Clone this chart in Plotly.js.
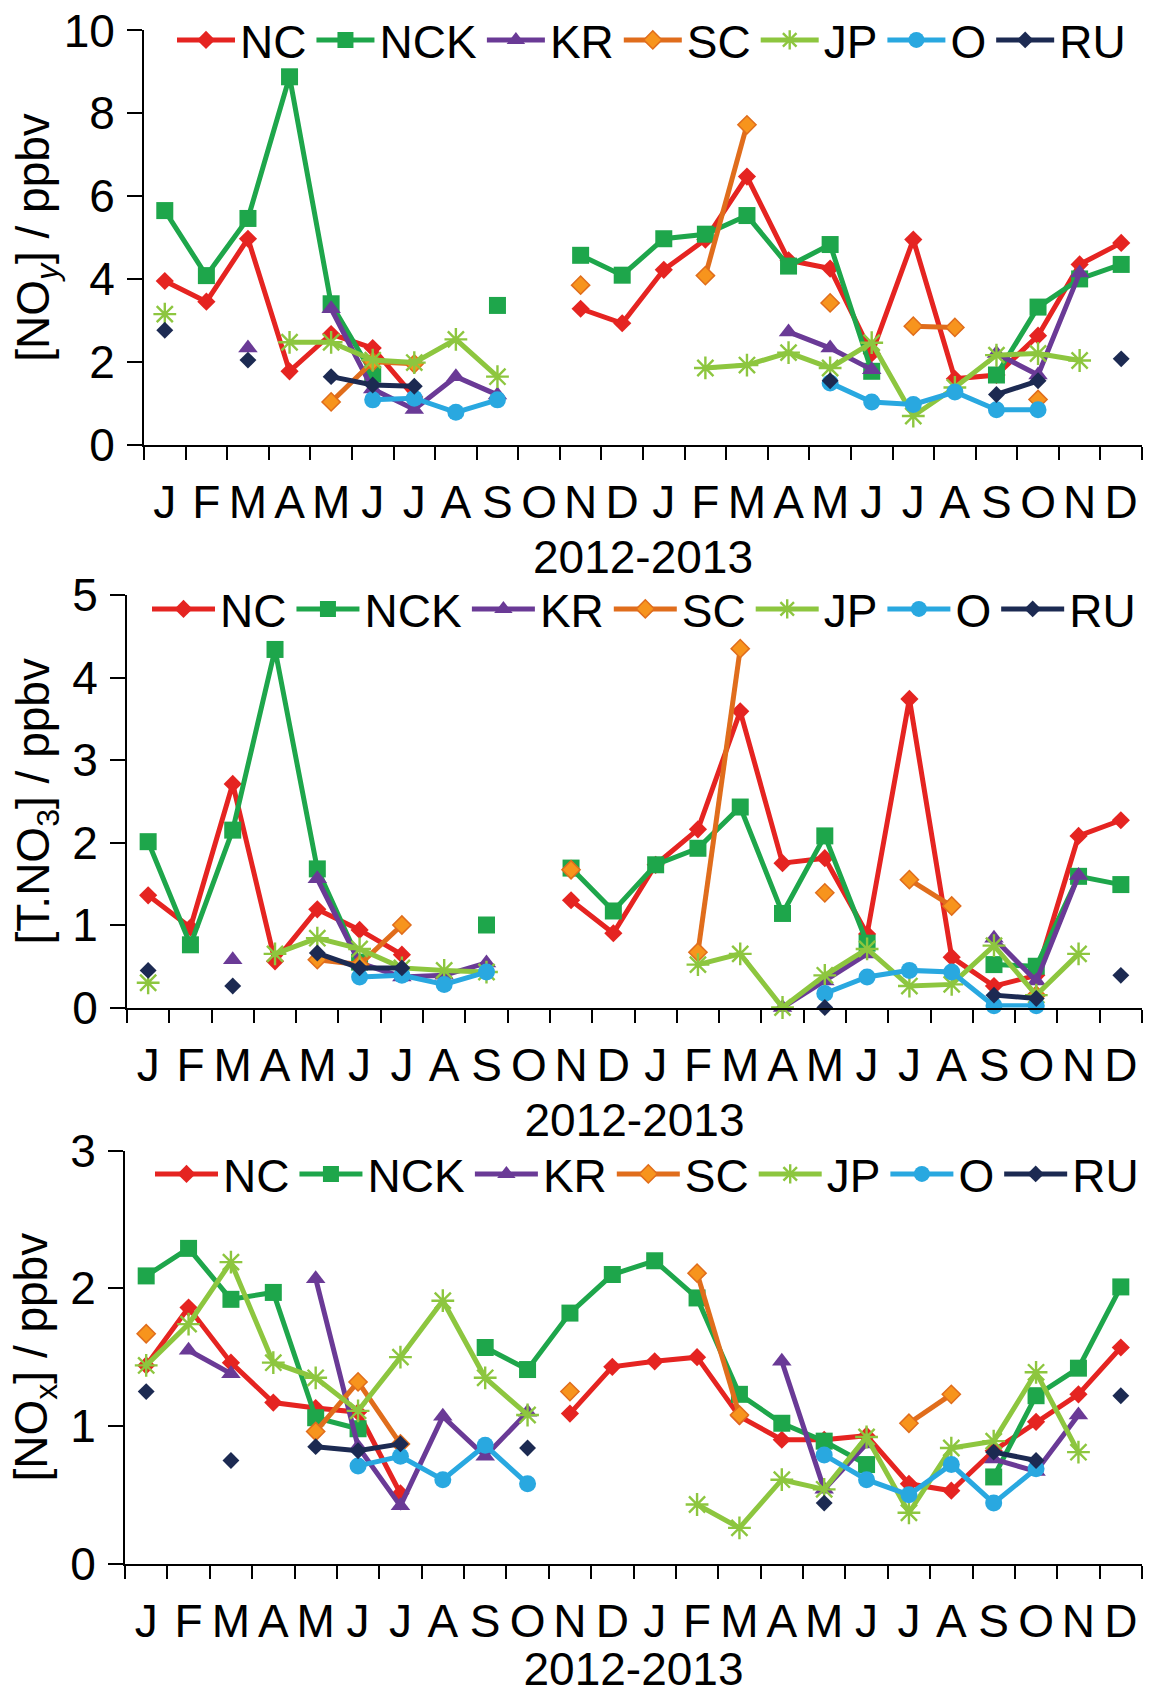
<!DOCTYPE html>
<html>
<head>
<meta charset="utf-8">
<script src="https://cdn.plot.ly/plotly-3.0.1.min.js"></script>
<style>
html,body{margin:0;padding:0;background:#fff;}
#chart{width:1157px;height:1695px;}
</style>
</head>
<body>
<div id="chart"></div>
<script>
// Month labels (Jan 2012 .. Dec 2013)
const monthLabels = ['J','F','M','A','M','J','J','A','S','O','N','D','J','F','M','A','M','J','J','A','S','O','N','D'];
const seriesNames = ['NC','NCK','KR','SC','JP','O','RU'];
const xTitle = '2012-2013';

// Panel 1: [NOy] / ppbv
const noy_NC  = [3.95,3.45,4.97,1.77,2.67,2.33,1.15,null,null,null,3.28,2.93,4.22,4.95,6.47,4.45,4.25,2.2,4.95,1.59,1.68,2.63,4.35,4.87];
const noy_NCK = [5.65,4.08,5.46,8.88,3.4,1.7,null,null,3.36,null,4.57,4.09,4.97,5.08,5.53,4.31,4.83,1.77,null,null,1.68,3.32,4.0,4.35];
const noy_KR  = [null,null,2.33,null,3.28,1.34,0.85,1.64,1.2,null,null,null,null,null,null,2.72,2.33,1.81,null,null,2.2,1.68,4.14,null];
const noy_SC  = [null,null,null,null,1.03,2.0,1.95,null,null,null,3.85,null,null,4.08,7.72,null,3.42,null,2.86,2.83,null,1.09,null,null];
const noy_JP  = [3.15,null,null,2.47,2.47,2.04,1.98,2.54,1.64,null,null,null,null,1.85,1.92,2.22,1.85,2.46,0.69,1.38,2.16,2.2,2.03,null];
const noy_O   = [null,null,null,null,null,1.08,1.12,0.78,1.08,null,null,null,null,null,null,null,1.49,1.03,0.97,1.27,0.84,0.84,null,null];
const noy_RU  = [2.76,null,2.04,null,1.64,1.44,1.41,null,null,null,null,null,null,null,null,null,1.54,null,null,null,1.21,1.54,null,2.07];

// Panel 2: [T.NO3] / ppbv
const tno3_NC  = [1.36,0.97,2.71,0.56,1.19,0.94,0.64,null,null,null,1.30,0.90,1.73,2.16,3.59,1.75,1.81,0.89,3.74,0.61,0.26,0.39,2.08,2.27];
const tno3_NCK = [2.01,0.76,2.15,4.34,1.68,0.55,null,null,1.0,null,1.69,1.17,1.73,1.93,2.43,1.14,2.08,0.78,null,null,0.52,0.5,1.59,1.49];
const tno3_KR  = [null,null,0.58,null,1.56,0.54,0.37,0.39,0.54,null,null,null,null,null,null,0.0,0.32,0.65,null,null,0.84,0.32,1.6,null];
const tno3_SC  = [null,null,null,null,0.58,0.52,1.0,null,null,null,1.67,null,null,0.67,4.35,null,1.39,null,1.55,1.23,null,0.15,null,null];
const tno3_JP  = [0.30,null,null,0.65,0.84,0.71,0.48,0.45,0.43,null,null,null,null,0.52,0.65,0.0,0.39,0.71,0.26,0.28,0.75,0.15,0.65,null];
const tno3_O   = [null,null,null,null,null,0.37,0.39,0.28,0.43,null,null,null,null,null,null,null,0.17,0.37,0.45,0.43,0.02,0.02,null,null];
const tno3_RU  = [0.45,null,0.26,null,0.66,0.48,0.48,null,null,null,null,null,null,null,null,null,0.0,null,null,null,0.15,0.11,null,0.39];

// Panel 3: [NOx] / ppbv
const nox_NC  = [1.44,1.86,1.46,1.17,1.13,1.10,0.51,null,null,null,1.09,1.43,1.47,1.50,1.07,0.90,0.90,0.93,0.58,0.53,0.82,1.03,1.23,1.57];
const nox_NCK = [2.09,2.29,1.92,1.97,1.06,0.98,null,null,1.57,1.41,1.82,2.10,2.20,1.93,1.23,1.02,0.89,0.72,null,null,0.63,1.22,1.42,2.01];
const nox_KR  = [null,1.55,1.38,null,2.07,0.85,0.42,1.07,0.78,1.10,null,null,null,null,null,1.47,0.54,0.87,null,null,0.76,0.67,1.08,null];
const nox_SC  = [1.67,null,null,null,0.96,1.32,0.87,null,null,null,1.25,null,null,2.11,1.08,null,null,null,1.02,1.23,null,null,null,null];
const nox_JP  = [1.44,1.74,2.19,1.46,1.35,1.11,1.50,1.91,1.35,1.08,null,null,null,0.43,0.26,0.61,0.54,0.92,0.37,0.84,0.89,1.39,0.81,null];
const nox_O   = [null,null,null,null,null,0.71,0.78,0.61,0.86,0.58,null,null,null,null,null,null,0.79,0.61,0.50,0.72,0.44,0.69,null,null];
const nox_RU  = [1.25,null,0.75,null,0.85,0.82,0.87,null,null,0.84,null,null,null,null,null,null,0.44,null,null,null,0.81,0.75,null,1.22];

const panels = [
  {data:[noy_NC,noy_NCK,noy_KR,noy_SC,noy_JP,noy_O,noy_RU], ytitle:'[NO<sub><i>y</i></sub>] / ppbv', ymax:10, dtick:2, tstand:0},
  {data:[tno3_NC,tno3_NCK,tno3_KR,tno3_SC,tno3_JP,tno3_O,tno3_RU], ytitle:'[T.NO<sub>3</sub>] / ppbv', ymax:5, dtick:1, tstand:8},
  {data:[nox_NC,nox_NCK,nox_KR,nox_SC,nox_JP,nox_O,nox_RU], ytitle:'[NO<sub>x</sub>] / ppbv', ymax:3, dtick:1, tstand:8}
];

const styles = [
  {line:'#E52421', marker:{symbol:'diamond', size:14, color:'#E52421'}},
  {line:'#1EA64B', marker:{symbol:'square', size:17, color:'#1EA64B'}},
  {line:'#6A3A96', marker:{symbol:'triangle-up', size:17, color:'#6A3A96'}},
  {line:'#E06D1C', marker:{symbol:'diamond', size:14, color:'#F7941D', line:{color:'#E06D1C', width:1.5}}},
  {line:'#8DC63F', marker:{symbol:'asterisk-open', size:19, color:'#8DC63F', line:{color:'#8DC63F', width:2.4}}},
  {line:'#29A8E0', marker:{symbol:'circle', size:17, color:'#29A8E0'}},
  {line:'#1C2A52', marker:{symbol:'diamond', size:13, color:'#1C2A52'}}
];

const W = 1157, H = 1695;
const geo = [
  {x0:144, x1:1142, yTop:30.4, yBot:444.6, legX:172, legY:40, iw:58},
  {x0:127, x1:1142, yTop:595, yBot:1007.5, legX:147, legY:609, iw:63},
  {x0:125, x1:1142, yTop:1150.6, yBot:1563.7, legX:150, legY:1174, iw:63}
];

const FONT = 'Liberation Sans, Arial, Helvetica, sans-serif';
const FS = 46;
const xIdx = monthLabels.map((_, i) => i);
const boundaries = [];
for (let i = 0; i <= monthLabels.length; i++) boundaries.push(i - 0.5);

const traces = [];
const layout = {
  width: W, height: H,
  margin: {l:0, r:0, t:0, b:0},
  paper_bgcolor: '#fff', plot_bgcolor: 'rgba(0,0,0,0)',
  font: {family: FONT, size: FS, color: '#000'},
  showlegend: true
};

panels.forEach((p, pi) => {
  const g = geo[pi];
  const ax = pi === 0 ? '' : String(pi + 1);
  const legName = pi === 0 ? 'legend' : 'legend' + (pi + 1);
  p.data.forEach((vals, si) => {
    const st = styles[si];
    traces.push({
      type: 'scatter', mode: 'lines+markers',
      x: xIdx, y: vals, name: seriesNames[si],
      xaxis: 'x' + ax, yaxis: 'y' + ax,
      legend: legName,
      connectgaps: false, cliponaxis: false,
      line: {color: st.line, width: 5},
      marker: st.marker
    });
  });
  layout['xaxis' + ax] = {
    domain: [g.x0 / W, g.x1 / W],
    anchor: 'y' + ax,
    range: [-0.5, 23.5],
    tickmode: 'array', tickvals: xIdx, ticktext: monthLabels,
    ticks: '', tickangle: 0, ticklabelstandoff: 16,
    tickfont: {size: FS, family: FONT},
    minor: {tickmode: 'array', tickvals: boundaries, ticks: 'outside', ticklen: 13, tickwidth: 2, tickcolor: '#000', showgrid: false},
    showline: true, linecolor: '#000', linewidth: 2,
    showgrid: false, zeroline: false, fixedrange: true,
    title: {text: xTitle, font: {size: FS, family: FONT}, standoff: 14}
  };
  layout['yaxis' + ax] = {
    domain: [1 - g.yBot / H, 1 - g.yTop / H],
    anchor: 'x' + ax,
    range: [0, p.ymax], tickmode: 'linear', tick0: 0, dtick: p.dtick,
    ticks: 'outside', ticklen: 15, tickwidth: 2, tickcolor: '#000',
    ticklabelstandoff: 3,
    tickfont: {size: FS, family: FONT},
    showline: true, linecolor: '#000', linewidth: 2,
    showgrid: false, zeroline: false, fixedrange: true,
    title: {text: p.ytitle, font: {size: FS, family: FONT}, standoff: p.tstand}
  };
  layout[legName] = {
    orientation: 'h', x: g.legX / W, xanchor: 'left',
    y: 1 - g.legY / H, yanchor: 'middle',
    bgcolor: 'rgba(0,0,0,0)', borderwidth: 0,
    font: {size: FS, family: FONT},
    itemwidth: g.iw, tracegroupgap: 0, itemclick: false
  };
});

Plotly.newPlot('chart', traces, layout, {displayModeBar: false, staticPlot: true});
</script>
</body>
</html>
